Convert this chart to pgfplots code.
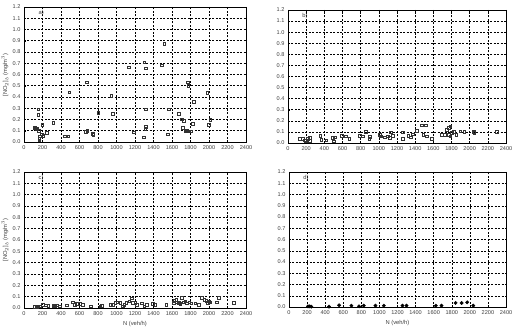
\documentclass[border=0pt]{standalone}
\usepackage{pgfplots}
\pgfplotsset{compat=1.18}
\usepackage{fontspec}
\setmainfont{Liberation Sans}
\tikzset{plab/.style={font=\fontsize{5.8}{6}\selectfont, text=black!75, anchor=west}}
\begin{document}
\begin{tikzpicture}
\useasboundingbox (0,0) rectangle (519bp,332bp);
\pgfplotsset{
  panel/.style={
    anchor=south west, scale only axis,
    xmin=0, xmax=2400, ymin=0, ymax=1.2,
    xtick={0,200,...,2400}, ytick={0,0.1,...,1.2},
    y tick label style={/pgf/number format/fixed, /pgf/number format/fixed zerofill, /pgf/number format/precision=1},
    x tick label style={/pgf/number format/1000 sep={}},
    /pgf/number format/assume math mode=true,
    scaled x ticks=false, scaled y ticks=false,
    tick label style={font=\fontsize{5.6}{6}\selectfont, text=black!75},
    label style={font=\fontsize{5.8}{6}\selectfont, text=black!75},
    xlabel style={yshift=1bp},
    grid=major,
    major grid style={black, line width=0.5pt, dash pattern=on 2pt off 1.5pt},
    axis line style={black, line width=0.7pt},
    tick style={black, line width=0.4pt},
    major tick length=2pt,
    tick align=inside,
    xtick pos=both, ytick pos=left,
    clip=false,
  },
  sq/.style={only marks, mark=square, mark size=1.3bp, black!80, mark options={line width=0.6pt}},
  dot/.style={only marks, mark=*, mark size=1.7bp, black},
}
% panel a
\begin{axis}[panel, at={(24bp,190bp)}, width=222bp, height=135bp]
\addplot[sq] coordinates {
(119,0.125)(130,0.12)(140,0.115)(155,0.29)(155,0.24)(158,0.10)(165,0.03)(165,0.015)
(170,0.05)(190,0.07)(198,0.155)(209,0.055)(245,0.08)(318,0.17)(444,0.05)(480,0.05)
(491,0.44)(671,0.09)(680,0.53)(686,0.10)(743,0.075)(751,0.065)(805,0.26)(942,0.41)
(960,0.25)(1130,0.665)(1184,0.085)(1292,0.04)(1300,0.71)(1317,0.655)(1317,0.29)
(1317,0.135)(1312,0.115)(1487,0.68)(1516,0.875)(1556,0.07)(1566,0.29)(1671,0.25)
(1707,0.20)(1725,0.19)(1718,0.125)(1743,0.10)(1761,0.10)(1770,0.53)(1775,0.50)
(1779,0.095)(1804,0.095)(1822,0.16)(1833,0.355)(1980,0.435)(1996,0.155)(2014,0.195)
};
\node[plab] at (axis cs:120,1.15) {a)};
\end{axis}
\node[rotate=90, font=\fontsize{5.8}{6}\selectfont, text=black!75] at (5bp,257bp) {[NO$_2$]$_b$ (mg/m$^3$)};
% panel b
\begin{axis}[panel, at={(288bp,189bp)}, width=218bp, height=133bp]
\addplot[sq] coordinates {
(129,0.036)(166,0.036)(184,0.024)(195,0.018)(221,0.036)(239,0.018)(239,0.045)
(357,0.066)(368,0.03)(423,0.024)(490,0.045)(504,0.015)(515,0.05)(589,0.066)(637,0.06)
(674,0.036)(791,0.066)(821,0.06)(858,0.10)(894,0.036)(902,0.054)(1012,0.075)(1019,0.06)
(1067,0.05)(1097,0.06)(1123,0.045)(1130,0.096)(1152,0.066)(1263,0.096)(1263,0.036)
(1325,0.066)(1355,0.05)(1373,0.08)(1417,0.11)(1472,0.16)(1516,0.16)(1491,0.075)
(1528,0.06)(1583,0.036)(1693,0.072)(1723,0.072)(1749,0.12)(1767,0.135)(1785,0.15)
(1767,0.075)(1785,0.06)(1804,0.09)(1822,0.10)(1852,0.075)(1896,0.105)(1940,0.10)
(2043,0.10)(2050,0.09)(2300,0.10)
};
\node[plab] at (axis cs:120,1.15) {b)};
\end{axis}
% panel c
\begin{axis}[panel, at={(24bp,24bp)}, width=222bp, height=136bp, xlabel={N (veh/h)}]
\addplot[sq] coordinates {
(119,0.01)(137,0.01)(155,0.015)(173,0.015)(202,0.03)(238,0.025)(263,0.02)(318,0.02)
(336,0.015)(354,0.025)(390,0.015)(462,0.025)(527,0.05)(552,0.03)(570,0.035)(606,0.035)
(635,0.03)(722,0.015)(823,0.015)(841,0.02)(931,0.03)(967,0.03)(985,0.045)(1010,0.05)
(1039,0.045)(1068,0.015)(1083,0.027)(1104,0.045)(1140,0.06)(1166,0.085)(1177,0.045)
(1202,0.045)(1220,0.027)(1274,0.04)(1300,0.015)(1328,0.03)(1393,0.035)(1418,0.03)
(1538,0.03)(1617,0.045)(1624,0.065)(1646,0.075)(1653,0.05)(1671,0.045)(1689,0.035)
(1707,0.09)(1725,0.05)(1743,0.06)(1761,0.04)(1786,0.05)(1808,0.04)(1851,0.04)(1888,0.03)
(1924,0.09)(1949,0.075)(1971,0.065)(1996,0.06)(2007,0.05)(1985,0.045)(2086,0.05)
(2104,0.09)(2266,0.045)
};
\node[plab] at (axis cs:120,1.15) {c)};
\end{axis}
\node[rotate=90, font=\fontsize{5.8}{6}\selectfont, text=black!75] at (5bp,92bp) {[NO$_2$]$_b$ (mg/m$^3$)};
% panel d
\begin{axis}[panel, at={(289bp,25bp)}, width=217bp, height=135bp, xlabel={N (veh/h)}]
\addplot[dot] coordinates {
(210,0.006)(229,0.006)(247,0.003)(443,0.003)(554,0.015)(690,0.012)(775,0.006)(827,0.012)
(956,0.012)(1049,0.012)(1255,0.012)(1300,0.012)(1624,0.012)(1687,0.012)(1842,0.036)
(1909,0.036)(1971,0.042)(2038,0.012)
};
\node[plab] at (axis cs:120,1.15) {d)};
\end{axis}
\end{tikzpicture}
\end{document}
